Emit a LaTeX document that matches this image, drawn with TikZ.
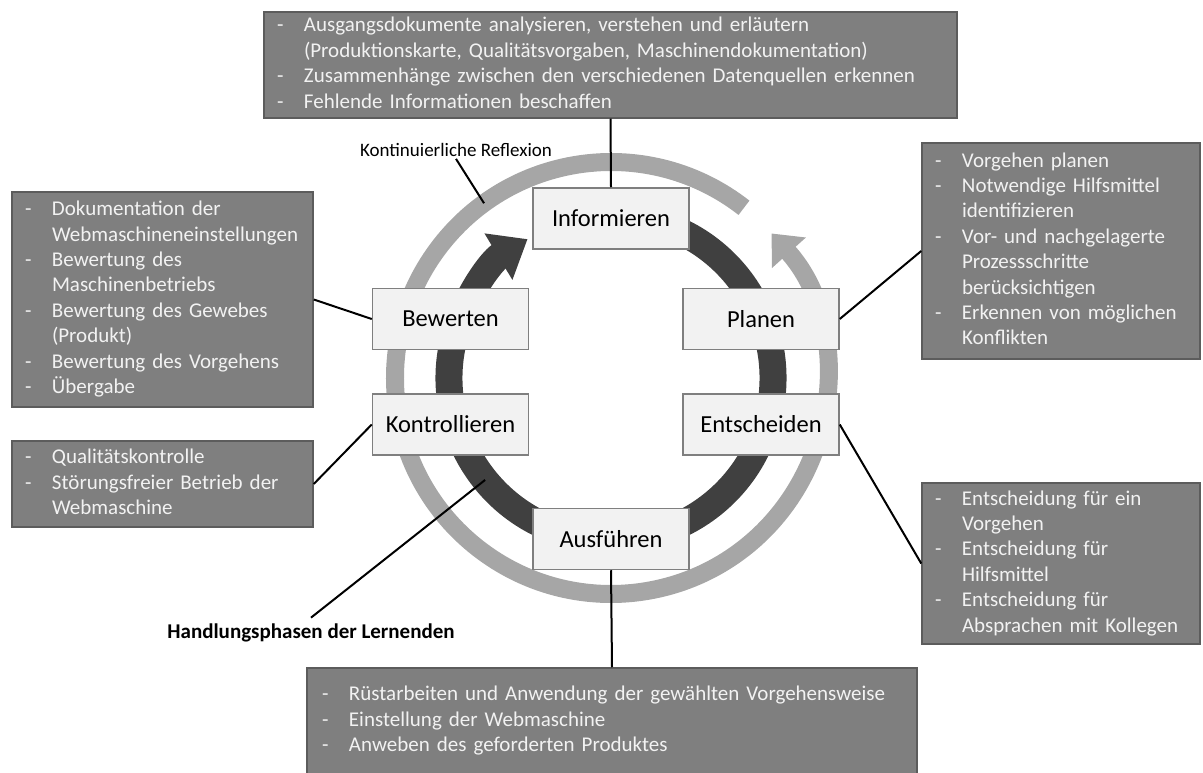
\documentclass[tikz,border=0pt]{standalone}
\usepackage{fontspec}
\setmainfont{Carlito}
\usetikzlibrary{arrows.meta,calc}
\definecolor{darkfill}{HTML}{7F7F7F}
\definecolor{darkline}{HTML}{5C5C5C}
\definecolor{lightfill}{HTML}{F2F2F2}
\definecolor{lightline}{HTML}{7F7F7F}
\definecolor{ringlight}{HTML}{A6A6A6}
\definecolor{ringdark}{HTML}{404040}
\definecolor{boxtext}{HTML}{F2F2F2}
\newcommand{\dtxt}{\fontsize{21}{25.4}\selectfont}
\newcommand{\dlist}[1]{\noindent\begin{tabular}{@{}p{27pt}@{}l@{}}#1\end{tabular}}
\begin{document}
\begin{tikzpicture}[x=1pt,y=1pt,
  phase/.style={draw=lightline, fill=lightfill, line width=1.5pt, minimum width=156pt, minimum height=61pt, inner sep=0pt, font=\fontsize{24.5}{29}\selectfont, text=black},
  info/.style={draw=darkline, fill=darkfill, line width=1.5pt, inner xsep=13pt, inner ysep=0pt, text=boxtext, font=\dtxt, align=left},
  conn/.style={line width=2pt, black},
]
\useasboundingbox (0,0) rectangle (1203,772);
\coordinate (C) at (611,394);
% rings
\draw[ringlight, line width=18pt, -{Triangle[length=26pt,width=44pt]}] ($(C)+(52:216)$) arc[start angle=52, end angle=402, radius=216];
\draw[ringdark, line width=27pt, -{Triangle[length=34pt,width=52pt]}] ($(C)+(75:162)$) arc[start angle=75, end angle=-239, radius=162];
\coordinate (krend) at ($(C)+(126:216)$);
\coordinate (hlend) at ($(C)+(219:162)$);

% phase boxes
\node[phase] (inf) at (611,553.5) {Informieren};
\node[phase] (bew) at (450.5,453) {Bewerten};
\node[phase] (plan) at (761,453) {Planen};
\node[phase] (kon) at (450.5,347.5) {Kontrollieren};
\node[phase] (ent) at (761,347.5) {Entscheiden};
\node[phase] (aus) at (611,233) {Ausführen};

% info boxes
\node[info, text width=667pt, minimum height=106pt] (topT) at (610.5,707) {\dlist{%
- & Ausgangsdokumente analysieren, verstehen und erläutern\\
  & (Produktionskarte, Qualitätsvorgaben, Maschinendokumentation)\\
- & Zusammenhänge zwischen den verschiedenen Datenquellen erkennen\\
- & Fehlende Informationen beschaffen}};
\node[info, text width=275pt, minimum height=215pt] (bewT) at (162.5,472.5) {\dlist{%
- & Dokumentation der\\
  & Webmaschineneinstellungen\\
- & Bewertung des\\
  & Maschinenbetriebs\\
- & Bewertung des Gewebes\\
  & (Produkt)\\
- & Bewertung des Vorgehens\\
- & Übergabe}};
\node[info, text width=275pt, minimum height=86pt] (konT) at (162.5,288) {\dlist{%
- & Qualitätskontrolle\\
- & Störungsfreier Betrieb der\\
  & Webmaschine}};
\node[info, text width=252pt, minimum height=216pt] (planT) at (1061,521) {\dlist{%
- & Vorgehen  planen\\
- & Notwendige Hilfsmittel\\
  & identifizieren\\
- & Vor- und nachgelagerte\\
  & Prozessschritte\\
  & berücksichtigen\\
- & Erkennen von möglichen\\
  & Konflikten}};
\node[info, text width=252pt, minimum height=161pt] (entT) at (1061,208.5) {\dlist{%
- & Entscheidung für ein\\
  & Vorgehen\\
- & Entscheidung für\\
  & Hilfsmittel\\
- & Entscheidung für\\
  & Absprachen mit Kollegen}};
\node[info, inner xsep=15pt, text width=580pt, minimum height=106pt] (botT) at (612,51) {\dlist{%
- & Rüstarbeiten und Anwendung der gewählten Vorgehensweise\\
- & Einstellung der Webmaschine\\
- & Anweben des geforderten Produktes}};

% labels
\node[font=\fontsize{19}{22}\selectfont, inner sep=2pt] (kr) at (456,622) {Kontinuierliche Reflexion};
\node[font=\fontsize{21}{25}\selectfont\bfseries, inner sep=6pt] (hl) at (311,139) {Handlungsphasen der Lernenden};

% connectors
\draw[conn] (topT.south) -- (inf.north);
\draw[conn] (aus.south) -- (botT.north);
\draw[conn] (bewT.east) -- (bew.west);
\draw[conn] (konT.east) -- (kon.west);
\draw[conn] (plan.east) -- (planT.west);
\draw[conn] (ent.east) -- (entT.west);
\draw[conn] (kr.south) -- (krend);
\draw[conn] (hl.north) -- (hlend);
\end{tikzpicture}
\end{document}
